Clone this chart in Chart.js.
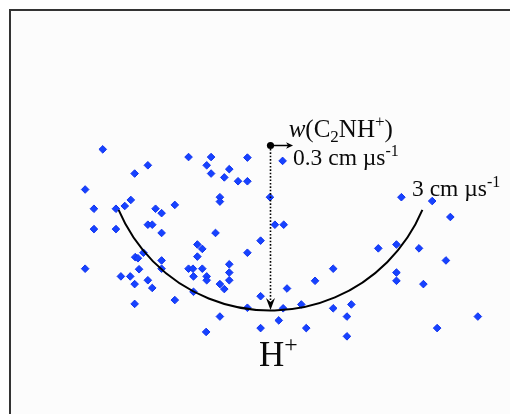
<!DOCTYPE html>
<html><head><meta charset="utf-8">
<script src="https://cdn.jsdelivr.net/npm/chart.js@4"></script>
<style>html,body{margin:0;padding:0;background:#fff}canvas{display:block}</style>
</head><body>
<canvas id="c" width="510" height="414"></canvas>
<script>
// H+ product velocities (cm/µs) in the frame of the C2NH+ parent
const vx = [
  -3.05, -1.49, -1.08, -0.42, -2.23, -1.16, -2.47, -1.08, -0.75, -0.84,
  -0.59, -0.42,  0.22, -3.37, -3.21, -2.81, -2.65, -2.54, -2.09, -1.98,
  -1.74, -0.92, -0.92, -0.01, -3.21, -2.81, -2.23, -2.15, -1.98, -1.00,
  -0.18,  0.08,  0.24, -1.33, -1.24, -2.46, -2.41, -2.31, -1.98, -1.33,
  -0.42, -3.37, -2.39, -1.98, -1.49, -1.41, -1.24, -0.75, -0.75, -2.72,
  -2.55, -1.40, -1.16, -1.16, -0.75, -2.47, -2.23, -0.92, -0.84, -2.15,
  -1.40, -1.74, -2.47, -0.18,  0.30, -0.42,  0.23, -0.92,  0.15, -0.18,
  -1.17,  2.38,  2.94,  3.27,  1.96,  2.29,  2.70,  3.19,  1.14,  2.29,
   2.29,  2.78,  0.81,  0.56,  1.14,  1.47,  1.39,  0.65,  1.39,  3.03,
   3.77
];
const vy = [
  -0.07, -0.21, -0.21, -0.22, -0.36, -0.36, -0.51, -0.51, -0.43, -0.58,
  -0.65, -0.65, -0.28, -0.80, -1.15, -1.15, -1.10, -0.99, -1.15, -1.23,
  -1.08, -0.94, -1.02, -0.94, -1.52, -1.52, -1.44, -1.44, -1.59, -1.59,
  -1.73, -1.44, -1.44, -1.80, -1.88, -2.03, -2.05, -1.95, -2.09, -2.02,
  -1.95, -2.24, -2.25, -2.24, -2.24, -2.24, -2.24, -2.16, -2.31, -2.38,
  -2.38, -2.38, -2.38, -2.45, -2.45, -2.52, -2.45, -2.52, -2.61, -2.59,
  -2.66, -2.81, -2.88, -2.74, -2.60, -2.95, -2.96, -3.11, -3.18, -3.32,
  -3.39, -0.94, -1.01, -1.30, -1.87, -1.80, -1.87, -2.09, -2.24, -2.31,
  -2.46, -2.52, -2.46, -2.89, -2.96, -2.89, -3.11, -3.32, -3.47, -3.32,
  -3.11
];
// Newton diagram elements (cm/µs)
const parentOrigin = [0, 0];
const wArrowTip = [0.41, 0];
const hArrowTip = [0, -2.99];
const circleRadius = 3;
const arcRangeDeg = [-157, -23];
// Label texts
const wLabel = [{t:'w', i:true}, {t:'(C'}, {t:'2', sub:true}, {t:'NH'}, {t:'+', sup:true}, {t:')'}];
const smallLabel = [{t:'0.3 cm µs'}, {t:'-1', sup:true}];
const bigLabel = [{t:'3 cm µs'}, {t:'-1', sup:true}];
const ionLabel = [{t:'H'}, {t:'+', sup:true}];

// ---- layout (pixels) ----
const W = 510, H = 414, PPU = 55, OX = 270.5, OY = 145.5;
const SERIF = '"Liberation Serif", "Times New Roman", serif';

function drawRich(ctx, x, y, segs, size) {
  let cx = x;
  for (const s of segs) {
    const small = s.sub || s.sup;
    const fs = small ? size * 0.68 : size;
    ctx.font = (s.i ? 'italic ' : '') + fs + 'px ' + SERIF;
    const dy = s.sub ? size * 0.22 : (s.sup ? -size * 0.4 : 0);
    ctx.fillText(s.t, cx, y + dy);
    cx += ctx.measureText(s.t).width;
  }
}

const decor = {
  id: 'decor',
  beforeDraw(chart) {
    const ctx = chart.ctx;
    ctx.save();
    ctx.fillStyle = '#ffffff';
    ctx.fillRect(0, 0, W, H);
    ctx.fillStyle = '#fcfcfc';
    ctx.fillRect(10, 10, W, H);
    ctx.strokeStyle = '#333333';
    ctx.lineWidth = 2;
    ctx.strokeRect(10, 10, W + 20, H + 20);
    ctx.restore();
  },
  afterDatasetsDraw(chart) {
    const ctx = chart.ctx, xs = chart.scales.x, ys = chart.scales.y;
    const px = v => xs.getPixelForValue(v), py = v => ys.getPixelForValue(v);
    const ox = px(parentOrigin[0]), oy = py(parentOrigin[1]);
    ctx.save();
    // Newton circle arc
    const r = px(circleRadius) - px(0);
    ctx.strokeStyle = '#000';
    ctx.lineWidth = 2;
    ctx.beginPath();
    ctx.arc(ox, oy, r, -arcRangeDeg[0] * Math.PI / 180, -arcRangeDeg[1] * Math.PI / 180, true);
    ctx.stroke();
    // dotted vector to H+
    const hx = px(hArrowTip[0]), hy = py(hArrowTip[1]);
    ctx.lineWidth = 1.6;
    ctx.setLineDash([1.6, 1.8]);
    ctx.beginPath();
    ctx.moveTo(ox, oy);
    ctx.lineTo(hx, hy - 6);
    ctx.stroke();
    ctx.setLineDash([]);
    ctx.fillStyle = '#000';
    ctx.beginPath();
    ctx.moveTo(hx, hy);
    ctx.lineTo(hx - 4.5, hy - 12);
    ctx.lineTo(hx, hy - 8);
    ctx.lineTo(hx + 4.5, hy - 12);
    ctx.closePath();
    ctx.fill();
    // w(C2NH+) vector
    const wx = px(wArrowTip[0]), wy = py(wArrowTip[1]);
    ctx.lineWidth = 1.5;
    ctx.beginPath();
    ctx.moveTo(ox, oy);
    ctx.lineTo(wx - 4, wy);
    ctx.stroke();
    ctx.beginPath();
    ctx.moveTo(wx, wy);
    ctx.lineTo(wx - 7, wy - 3.2);
    ctx.lineTo(wx - 5, wy);
    ctx.lineTo(wx - 7, wy + 3.2);
    ctx.closePath();
    ctx.fill();
    // origin dot
    ctx.beginPath();
    ctx.arc(ox, oy, 3.6, 0, Math.PI * 2);
    ctx.fill();
    // labels
    ctx.fillStyle = '#0a0a0a';
    ctx.textBaseline = 'alphabetic';
    drawRich(ctx, px(0.33), py(0.155), wLabel, 25);
    drawRich(ctx, px(0.409), py(-0.355), smallLabel, 23.5);
    drawRich(ctx, px(2.573), py(-0.927), bigLabel, 23.5);
    drawRich(ctx, px(-0.209), py(-4.009), ionLabel, 35);
    ctx.restore();
  }
};

new Chart(document.getElementById('c'), {
  type: 'scatter',
  data: {
    datasets: [{
      data: vx.map((x, k) => ({x, y: vy[k]})),
      pointStyle: 'rectRot',
      pointRadius: 3.8,
      backgroundColor: 'rgb(22,66,255)',
      borderColor: 'rgb(18,52,240)',
      borderWidth: 1,
      clip: false
    }]
  },
  options: {
    responsive: false,
    animation: false,
    devicePixelRatio: 1,
    layout: {padding: 0, autoPadding: false},
    plugins: {legend: {display: false}, tooltip: {enabled: false}},
    scales: {
      x: {type: 'linear', display: false, min: -OX / PPU, max: (W - OX) / PPU},
      y: {type: 'linear', display: false, min: -(H - OY) / PPU, max: OY / PPU}
    }
  },
  plugins: [decor]
});
</script>
</body></html>
